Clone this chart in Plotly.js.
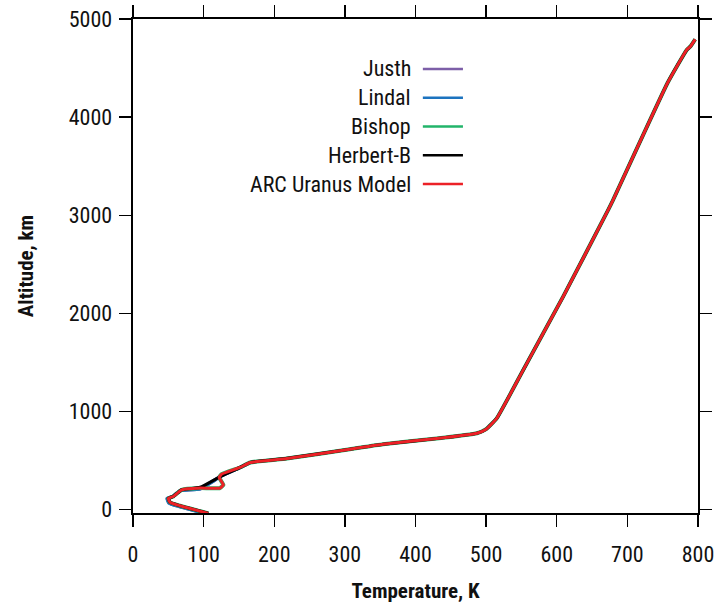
<!DOCTYPE html>
<html>
<head>
<meta charset="utf-8">
<script src="https://cdn.plot.ly/plotly-3.0.1.min.js"></script>
<style>html,body{margin:0;padding:0;background:#fff;}#chart{width:719px;height:605px;}</style>
</head>
<body>
<div id="chart"></div>
<script>
// Temperature (K) / Altitude (km) profiles
const arcT   = [106.6, 66.5, 52.4, 50, 57, 64, 69, 95, 123, 128, 122, 125.5, 151.5, 166, 218, 307, 354, 430, 487, 500, 515, 553, 609, 673, 680, 757, 784, 789, 796];
const arcAlt = [-39, 39, 73, 114, 134, 175, 201, 219, 219, 252, 327, 361, 429, 480, 521, 615, 666, 724, 778, 819, 930, 1429, 2170, 3057, 3159, 4350, 4685, 4718, 4793];

const bishopT   = arcT.slice();
const bishopAlt = arcAlt.slice();

const herbertT   = [106.6, 66.5, 52.4, 50, 57, 64, 69, 95, 125.5, 151.5, 166, 218, 307, 354, 430, 487, 500, 515, 553, 609, 673, 680, 757, 784, 789, 796];
const herbertAlt = [-39, 39, 73, 114, 134, 175, 201, 226, 344, 429, 480, 521, 615, 666, 724, 778, 819, 930, 1429, 2170, 3057, 3159, 4350, 4685, 4718, 4793];

const lindalT   = [105, 65, 51, 48.5, 55.5, 62.5, 68, 95, 125.5, 151.5, 166];
const lindalAlt = [-44, 33, 68, 112, 130, 170, 195, 212, 344, 429, 480];

const justhT   = [105, 65, 51, 48.5, 55.5, 62.5, 68, 95, 125.5, 151.5, 166];
const justhAlt = [-44, 33, 68, 112, 130, 170, 195, 212, 344, 429, 480];

const seriesNames  = ["Justh", "Lindal", "Bishop", "Herbert-B", "ARC Uranus Model"];
const seriesColors = ["#7d5fa8", "#1c73bf", "#22b46a", "#000000", "#ec2127"];
const xTickVals = [0, 100, 200, 300, 400, 500, 600, 700, 800];
const yTickVals = [0, 1000, 2000, 3000, 4000, 5000];

const FONT = "'Liberation Sans Narrow', 'Arial Narrow', 'Roboto Condensed', 'Liberation Sans', sans-serif";

const seriesX = [justhT, lindalT, bishopT, herbertT, arcT];
const seriesY = [justhAlt, lindalAlt, bishopAlt, herbertAlt, arcAlt];
const widths = [3.5, 3.5, 4, 3.2, 3];

const traces = seriesNames.map((n, i) => ({
  type: 'scatter', mode: 'lines', name: n,
  x: seriesX[i], y: seriesY[i],
  line: {color: seriesColors[i], width: widths[i], shape: 'spline', smoothing: 0.4},
  showlegend: false, hoverinfo: 'skip'
}));

// custom legend: text right-aligned, sample line to the right
const legY0 = 0.899, legStep = 0.0583;
const annotations = [], shapes = [];
seriesNames.forEach((n, i) => {
  const yy = legY0 - i * legStep;
  annotations.push({xref: 'paper', yref: 'paper', x: 0.496, y: yy, xanchor: 'right', yanchor: 'middle',
    text: n, showarrow: false, font: {family: FONT, size: 22, color: '#111'}});
  shapes.push({type: 'line', xref: 'paper', yref: 'paper', x0: 0.513, x1: 0.584, y0: yy, y1: yy,
    line: {color: seriesColors[i], width: 2.5}});
});

const axisCommon = {
  showgrid: false, zeroline: false, showline: true, linecolor: '#000', linewidth: 2.4,
  mirror: 'ticks', ticks: 'outside', ticklen: 12, tickwidth: 1.3, tickcolor: '#000',
  tickfont: {family: FONT, size: 22, color: '#111'}
};

const layout = {
  width: 719, height: 605,
  margin: {l: 133, r: 21, t: 19, b: 92},
  paper_bgcolor: '#fff', plot_bgcolor: '#fff',
  font: {family: FONT},
  xaxis: Object.assign({}, axisCommon, {
    range: [0, 800], tickvals: xTickVals, ticktext: xTickVals.map(String),
    ticklabelstandoff: 8,
    title: {text: '<b>Temperature, K</b>', font: {family: FONT, size: 21, color: '#111'}, standoff: 18}
  }),
  yaxis: Object.assign({}, axisCommon, {
    range: [-35, 5000], tickvals: yTickVals, ticktext: yTickVals.map(String),
    ticklabelstandoff: 2,
    title: {text: '<b>Altitude, km</b>', font: {family: FONT, size: 21, color: '#111'}, standoff: 30}
  }),
  annotations: annotations, shapes: shapes,
  showlegend: false
};

Plotly.newPlot('chart', traces, layout, {staticPlot: true, displayModeBar: false});
</script>
</body>
</html>
